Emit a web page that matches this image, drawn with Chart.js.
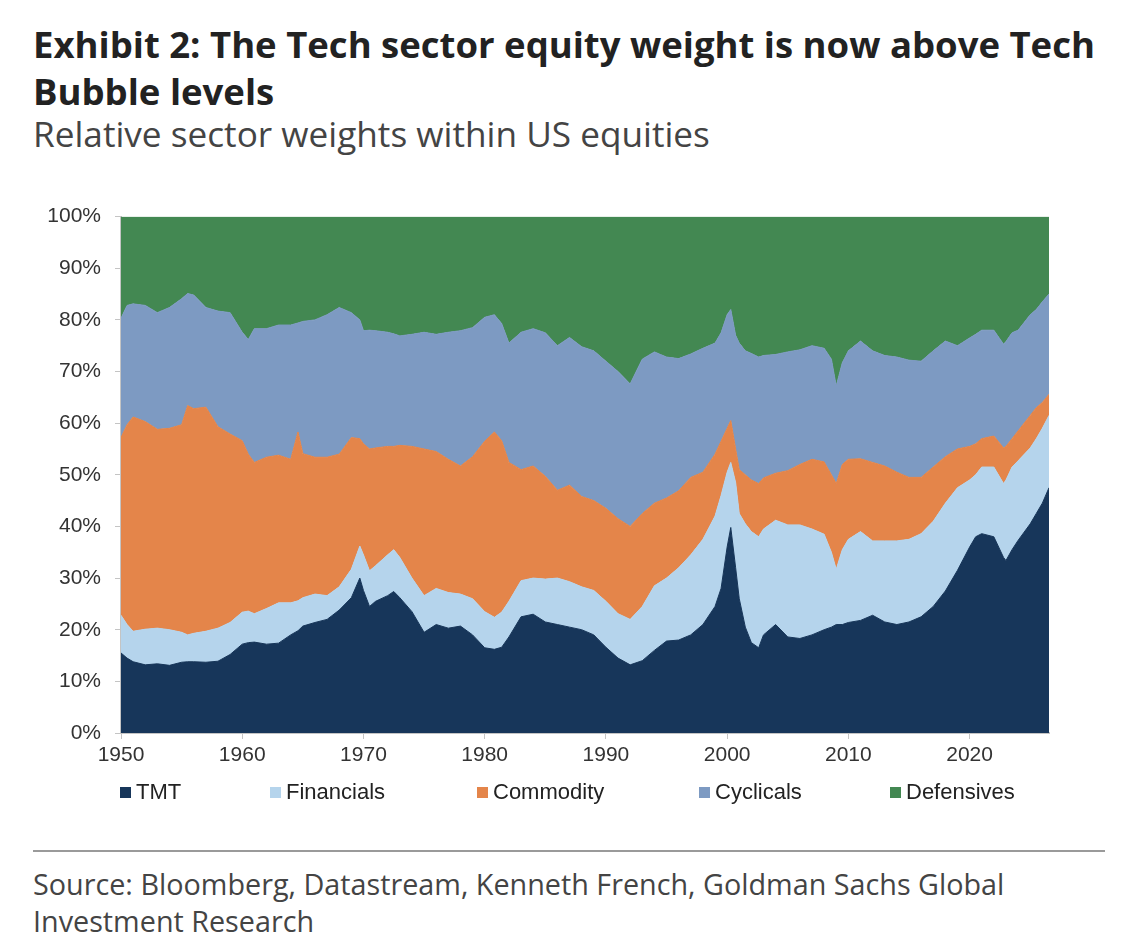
<!DOCTYPE html>
<html>
<head>
<meta charset="utf-8">
<script src="https://cdn.jsdelivr.net/npm/chart.js@4.4.1/dist/chart.umd.min.js"></script>
<style>
body{margin:0;background:#fff;width:1130px;height:952px;position:relative;overflow:hidden;font-family:"Open Sans","Noto Sans",sans-serif}
.txt{position:absolute;left:33px;line-height:1;white-space:nowrap}
.ttl{font-weight:700;color:#222}
.sub{color:#444}
.src{color:#444}
#wrap{position:absolute;left:0;top:190px;width:1130px;height:590px}
.lg{position:absolute;top:779px;height:26px;display:flex;align-items:center;font-family:"Liberation Sans",Arial,sans-serif;font-size:22px;color:#222;white-space:nowrap}
.lg i{display:inline-block;width:11px;height:11px;margin-right:5px}
#rule{position:absolute;left:33px;top:850px;width:1072px;height:2px;background:#9a9a9a}
</style>
</head>
<body>

<!-- data-w : target text width, data-b : baseline y -->
<div class="txt ttl" data-w="1062" data-b="58">Exhibit 2: The Tech sector equity weight is now above Tech</div>
<div class="txt ttl" data-b="105" data-same="0">Bubble levels</div>
<div class="txt sub" data-w="677" data-b="147">Relative sector weights within US equities</div>

<div id="wrap"><canvas id="chart"></canvas></div>
<div id="legend"></div>

<div id="rule"></div>
<div class="txt src" data-w="972" data-b="896">Source: Bloomberg, Datastream, Kenneth French, Goldman Sachs Global</div>
<div class="txt src" data-b="933" data-same="3">Investment Research</div>

<script>
/* =========================================================
DATA  (cumulative % : upper edge of each band)
========================================================= */

const years = [
1950,1950.5,1951,1952,1953,1954,1955,1955.5,1956,1957,
1958,1959,1960,1960.5,1961,1962,1963,1964,1964.6,1965,
1966,1967,1968,1969,1969.7,1970,1970.5,1971,1972,1972.5,
1973,1974,1975,1976,1977,1978,1979,1980,1980.8,1981.4,
1982,1983,1984,1985,1986,1987,1988,1989,1990,1991,
1992,1993,1994,1995,1996,1997,1998,1999,1999.5,2000,
2000.3,2000.7,2001,2001.5,2002,2002.6,2003,2004,2005,2006,
2007,2008,2008.6,2009,2009.5,2010,2011,2012,2013,2014,
2015,2016,2017,2018,2019,2020,2020.5,2021,2022,2022.8,
2023,2023.5,2024,2025,2025.5,2026,2026.55
];

// TMT
const tmtTop = [
15.5,14.5,13.8,13.2,13.4,13.1,13.7,13.8,13.8,13.7,
13.9,15.2,17.2,17.5,17.6,17.2,17.4,19,19.8,20.7,
21.4,22,23.8,26.2,30,27.6,24.5,25.5,26.6,27.4,
26.2,23.5,19.5,21,20.3,20.7,19,16.5,16.2,16.6,
18.6,22.5,23,21.5,21,20.5,20,19,16.6,14.5,
13.2,14,16,17.8,18,19,21,24.5,28,36,
39.8,32,26,20.5,17.5,16.5,19,21,18.6,18.3,
19,20,20.5,21,21,21.4,21.8,22.8,21.5,21,
21.5,22.5,24.5,27.5,31.5,36,38,38.6,38,34,
33.4,35.5,37.3,40.5,42.5,44.5,47.5
];

// TMT + Financials
const finTop = [
22.8,21,19.7,20.1,20.3,20,19.5,19,19.3,19.7,
20.3,21.4,23.4,23.6,23.1,24.1,25.2,25.2,25.6,26.2,
26.9,26.6,28.3,31.7,36.2,34.5,31.4,32.4,34.5,35.5,
34,30,26.6,28,27.2,26.9,26,23.5,22.4,23.4,
25.5,29.5,30,29.8,30,29.3,28.3,27.6,25.5,23.1,
22,24.5,28.5,30,32,34.5,37.5,42,46,50.5,
52.4,48.5,42.5,40.5,39,38,39.5,41.2,40.3,40.3,
39.5,38.5,35,31.7,35.5,37.5,39,37.2,37.2,37.2,
37.5,38.6,41,44.5,47.5,49,50,51.5,51.5,48.3,
49,51.5,52.7,55.2,57,59,61.5
];

// + Commodity
const commTop = [
57.2,59.7,61.2,60.3,58.8,59,59.7,63.4,62.8,63.1,
59.3,57.9,56.6,54,52.4,53.4,53.8,53,58.3,54.1,
53.4,53.4,54,57.2,57,56,55,55.2,55.5,55.5,
55.7,55.5,55,54.5,53,51.7,53.5,56.5,58.3,56.6,
52.4,51,51.7,49.7,47,48,45.8,45,43.5,41.5,
40,42.5,44.5,45.5,46.9,49.5,50.5,54,56.5,59,
60.5,55,51,50,49,48.3,49.4,50.3,50.8,52,
53,52.5,50,48.3,52,53,53.1,52.4,51.7,50.5,
49.5,49.5,51.5,53.5,55,55.5,56,57,57.5,55.2,
55.5,57,58.5,61.5,63,64,65.6
];

// + Cyclicals (Defensives fill the rest up to 100%)
const cycTop = [
80.3,82.8,83.1,82.8,81.4,82.4,84.1,85.1,84.8,82.4,
81.7,81.4,77.6,76.2,78.3,78.3,79,79,79.4,79.7,
80,81,82.4,81.4,80,77.9,78,77.9,77.6,77.3,
76.9,77.2,77.6,77.2,77.6,77.9,78.5,80.5,81,79.3,
75.5,77.6,78.3,77.5,75,76.6,74.8,74,72,70,
67.6,72.4,73.8,72.8,72.5,73.4,74.5,75.5,77.5,81,
82,77,75.5,74,73.5,72.8,73.1,73.3,73.8,74.2,
75,74.5,72.4,67.2,71.7,74,75.9,74,73.1,72.8,
72.2,72,74,75.9,75,76.5,77.2,78,78,75.3,
75.8,77.5,78,81,82,83.5,85
];

const sectorNames = ["TMT","Financials","Commodity","Cyclicals","Defensives"];
const sectorColors = ["#17365a","#b5d4ec","#e4854a","#7d9ac2","#438852"];

const yTicks = [0,10,20,30,40,50,60,70,80,90,100];

/* =========================================================
TEXT SIZING
========================================================= */

const texts = document.querySelectorAll(".txt");
const sizes = [];

texts.forEach((el,i)=>{
  let size = 30;
  if(el.dataset.same !== undefined){
    size = sizes[Number(el.dataset.same)];
  }else{
    el.style.fontSize = "30px";
    size = 30 * Number(el.dataset.w) / el.getBoundingClientRect().width;
  }
  sizes[i] = size;
  el.style.fontSize = size + "px";
  el.style.top = (Number(el.dataset.b) - 0.888 * size) + "px";
});

/* =========================================================
CHART
========================================================= */

const toXY = (arr) => years.map((x,i) => ({x:x, y:arr[i]}));

const edges = [tmtTop, finTop, commTop, cycTop, cycTop];
const fills = ["origin","-1","-1","-1","end"];

const datasets = sectorNames.map((name,i) => ({
  label:name,
  data:toXY(edges[i]),
  fill:fills[i],
  backgroundColor:sectorColors[i],
  borderColor:sectorColors[i],
  borderWidth:i === 4 ? 0 : 1,
  pointRadius:0,
  tension:0
}));

const tickFont = {family:"'Liberation Sans', Arial, sans-serif", size:21};

new Chart(document.getElementById("chart"), {

type:"line",

data:{datasets:datasets},

options:{
  responsive:true,
  maintainAspectRatio:false,
  animation:false,
  layout:{padding:{top:25,right:81,left:0,bottom:0}},
  plugins:{
    legend:{display:false},
    tooltip:{enabled:false}
  },
  scales:{
    x:{
      type:"linear",
      min:1950,
      max:2026.55,
      afterFit:(s)=>{ s.height = 47; },
      ticks:{
        stepSize:10,
        includeBounds:false,
        autoSkip:false,
        maxRotation:0,
        padding:4,
        color:"#333",
        font:tickFont,
        callback:(v)=>String(v)
      },
      grid:{display:true,drawOnChartArea:false,drawTicks:true,tickLength:6,color:"#c4c4c4"},
      border:{color:"#c4c4c4",width:2}
    },
    y:{
      min:0,
      max:100,
      afterFit:(s)=>{ s.width = 121; },
      afterBuildTicks:(s)=>{ s.ticks = yTicks.map(v=>({value:v})); },
      ticks:{
        padding:14,
        color:"#333",
        font:tickFont,
        callback:(v)=>v + "%"
      },
      grid:{display:true,drawOnChartArea:false,drawTicks:true,tickLength:6,color:"#c4c4c4"},
      border:{color:"#c4c4c4",width:2}
    }
  }
}

});

/* =========================================================
LEGEND
========================================================= */

const legendLeft = [120,270,477,699,890];
const legendBox = document.getElementById("legend");

sectorNames.forEach((name,i)=>{
  const item = document.createElement("div");
  item.className = "lg";
  item.style.left = legendLeft[i] + "px";
  item.innerHTML = '<i style="background:' + sectorColors[i] + '"></i>' + name;
  legendBox.appendChild(item);
});
</script>
</body>
</html>
